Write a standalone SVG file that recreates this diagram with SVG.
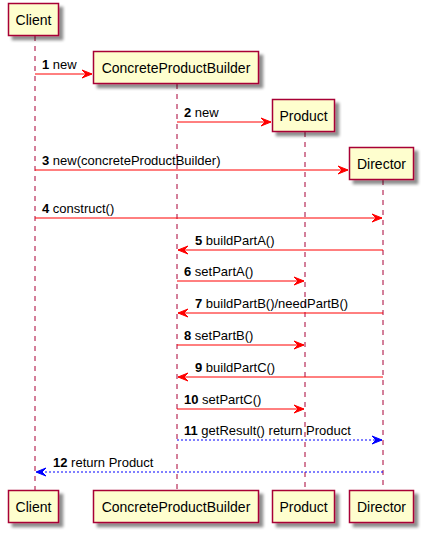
<svg xmlns="http://www.w3.org/2000/svg" width="423" height="533" viewBox="0 0 423 533">
<defs>
<filter id="sh" x="-20%" y="-30%" width="150%" height="180%">
<feGaussianBlur in="SourceAlpha" stdDeviation="1.7"/>
<feOffset dx="4" dy="4" result="b"/>
<feComponentTransfer><feFuncA type="linear" slope="0.45"/></feComponentTransfer>
<feMerge><feMergeNode/><feMergeNode in="SourceGraphic"/></feMerge>
</filter>
<marker id="ar" markerWidth="12" markerHeight="10" refX="11" refY="5" orient="auto" markerUnits="userSpaceOnUse">
<polygon points="1,1 11,5 1,9 5,5" fill="#FF0000" stroke="#FF0000" stroke-width="1"/>
</marker>
<marker id="ab" markerWidth="12" markerHeight="10" refX="11" refY="5" orient="auto" markerUnits="userSpaceOnUse">
<polygon points="1,1 11,5 1,9 5,5" fill="#0000FF" stroke="#0000FF" stroke-width="1"/>
</marker>
</defs>
<style>
.box{fill:#FEFECE;stroke:#A80036;stroke-width:1.5;filter:url(#sh)}
.life{stroke:#A80036;stroke-width:1;stroke-dasharray:5,5;fill:none}
.pt{font-family:"Liberation Sans",Arial,sans-serif;font-size:14px;fill:#000000}
.m{stroke:#FF0000;stroke-width:1;fill:none;marker-end:url(#ar)}
.r{stroke:#0000FF;stroke-width:1;stroke-dasharray:2,2;fill:none;marker-end:url(#ab)}
.lb{font-family:"Liberation Sans",Arial,sans-serif;font-size:13px;fill:#000000}
.n{font-weight:bold}
</style>
<g id="lifelines">
<line class="life" x1="35" y1="36" x2="35" y2="490"/>
<line class="life" x1="177" y1="84" x2="177" y2="490"/>
<line class="life" x1="305" y1="132" x2="305" y2="490"/>
<line class="life" x1="383" y1="180" x2="383" y2="490"/>
</g>
<g id="client">
<rect class="box" x="8.5" y="3.5" width="50" height="32"/>
<text class="pt" x="33.5" y="24.5" text-anchor="middle">Client</text>
<rect class="box" x="8.5" y="490.5" width="50" height="32"/>
<text class="pt" x="33.5" y="511.5" text-anchor="middle">Client</text>
</g>
<g id="concreteProductBuilder">
<rect class="box" x="93.5" y="51.5" width="165" height="32"/>
<text class="pt" x="176" y="72.5" text-anchor="middle">ConcreteProductBuilder</text>
<rect class="box" x="93.5" y="490.5" width="165" height="32"/>
<text class="pt" x="176" y="511.5" text-anchor="middle">ConcreteProductBuilder</text>
</g>
<g id="product">
<rect class="box" x="272.5" y="99.5" width="62" height="32"/>
<text class="pt" x="303.5" y="120.5" text-anchor="middle">Product</text>
<rect class="box" x="272.5" y="490.5" width="62" height="32"/>
<text class="pt" x="303.5" y="511.5" text-anchor="middle">Product</text>
</g>
<g id="director">
<rect class="box" x="349.5" y="147.5" width="64" height="32"/>
<text class="pt" x="381.5" y="168.5" text-anchor="middle">Director</text>
<rect class="box" x="349.5" y="490.5" width="64" height="32"/>
<text class="pt" x="381.5" y="511.5" text-anchor="middle">Director</text>
</g>
<g id="connectors">
<line class="m" x1="35" y1="74" x2="92" y2="74"/>
<text class="lb" x="42" y="69"><tspan class="n">1</tspan> new</text>
<line class="m" x1="177" y1="122" x2="271" y2="122"/>
<text class="lb" x="184" y="117"><tspan class="n">2</tspan> new</text>
<line class="m" x1="35" y1="170" x2="348" y2="170"/>
<text class="lb" x="42" y="165"><tspan class="n">3</tspan> new(concreteProductBuilder)</text>
<line class="m" x1="35" y1="218" x2="382" y2="218"/>
<text class="lb" x="42" y="213"><tspan class="n">4</tspan> construct()</text>
<line class="m" x1="383" y1="250" x2="178" y2="250"/>
<text class="lb" x="195" y="245"><tspan class="n">5</tspan> buildPartA()</text>
<line class="m" x1="177" y1="281" x2="304" y2="281"/>
<text class="lb" x="184" y="276"><tspan class="n">6</tspan> setPartA()</text>
<line class="m" x1="383" y1="313" x2="178" y2="313"/>
<text class="lb" x="195" y="308"><tspan class="n">7</tspan> buildPartB()/needPartB()</text>
<line class="m" x1="177" y1="345" x2="304" y2="345"/>
<text class="lb" x="184" y="340"><tspan class="n">8</tspan> setPartB()</text>
<line class="m" x1="383" y1="377" x2="178" y2="377"/>
<text class="lb" x="195" y="372"><tspan class="n">9</tspan> buildPartC()</text>
<line class="m" x1="177" y1="409" x2="304" y2="409"/>
<text class="lb" x="184" y="404"><tspan class="n">10</tspan> setPartC()</text>
<line class="r" x1="177" y1="440" x2="382" y2="440"/>
<text class="lb" x="184" y="435"><tspan class="n">11</tspan> getResult() return Product</text>
<line class="r" x1="383" y1="472" x2="36" y2="472"/>
<text class="lb" x="53" y="467"><tspan class="n">12</tspan> return Product</text>
</g>
</svg>
